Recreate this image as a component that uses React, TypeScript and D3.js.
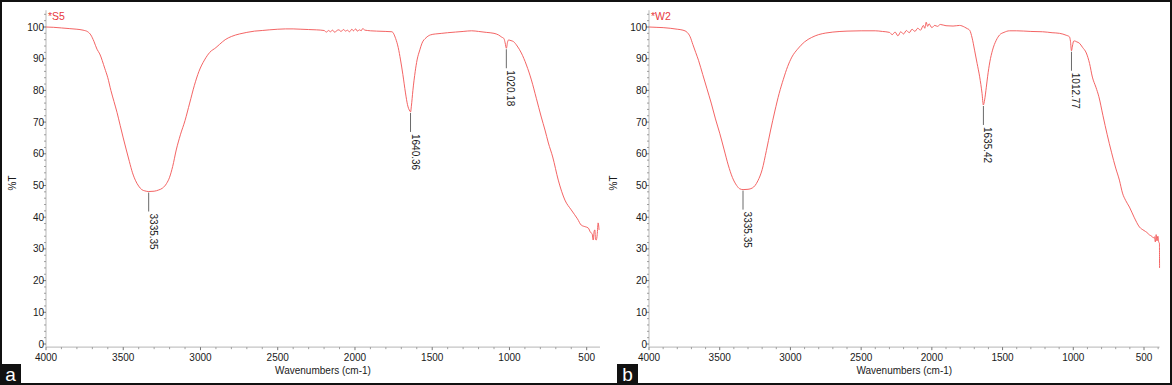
import React from 'react';
import * as d3 from 'd3';

// ---------- data ----------
const waveS5 = [4000,3950,3900,3850,3800,3760,3730,3710,3690,3670,3652,3620,3600,3580,3560,3540,3520,3500,3480,3460,3440,3420,3400,3380,3360,3335,3300,3270,3245,3220,3200,3180,3157,3130,3100,3070,3040,3010,2974,2940,2900,2877,2840,2800,2748,2700,2650,2600,2555,2500,2450,2400,2350,2300,2250,2200,2185,2170,2160,2145,2130,2120,2105,2090,2075,2060,2050,2035,2020,2010,1995,1985,1970,1960,1950,1935,1920,1900,1860,1800,1761,1737,1720,1705,1690,1673,1660,1645,1640,1635,1625,1610,1598,1580,1566,1540,1512,1480,1438,1400,1350,1300,1245,1200,1150,1100,1071,1050,1039,1035,1028,1020,1012,1006,990,974,950,923,890,858,826,794,770,748,720,684,641,600,560,535,510,490,475,465,458,452,447,443,438,432,426,420];
const transS5 = [100.0,99.9,99.7,99.5,99.3,99.0,98.5,97.5,95.5,93,91.5,87,84,80,76.5,73,69,65,61.2,57.5,54,51.5,49.8,48.7,48.3,48.1,48.2,48.6,49.2,50.6,52.6,56,61.2,66,70.5,76,81.5,86,89.6,92,93.5,94.5,96,97,97.8,98.3,98.7,98.9,99.1,99.3,99.4,99.4,99.3,99.2,99.1,98.9,98.4,98.9,98.5,99.0,98.3,98.8,99.1,98.6,99.2,98.7,99.0,98.5,99.3,98.8,99.4,98.7,99.1,98.8,99.5,99.0,98.9,98.8,98.7,98.6,98.5,96.4,93.5,89.6,85,79.2,75.5,73.5,73.2,75,80,86,89.6,92.8,94.9,96.6,97.5,97.8,98.0,98.2,98.4,98.6,98.8,98.6,98.3,98.0,97.5,96.8,96.5,96.3,95.0,93.3,95.3,95.9,95.7,95.4,94,91.8,88,83.3,77.5,71.6,67.5,63.4,59,51.7,45.4,42.3,39.5,37.5,37.0,36.6,35.2,34.8,32.8,35.5,36,33,32.8,34.5,38.2,36];

const waveW2 = [4000,3950,3900,3850,3800,3760,3730,3710,3690,3670,3650,3620,3590,3560,3530,3500,3470,3440,3410,3380,3360,3335,3300,3270,3250,3230,3200,3170,3140,3110,3080,3050,3020,2990,2950,2900,2850,2800,2750,2700,2600,2500,2400,2350,2300,2280,2260,2240,2220,2200,2180,2160,2140,2120,2100,2080,2060,2050,2040,2030,2020,2000,1980,1960,1940,1900,1850,1804,1770,1750,1733,1715,1698,1680,1662,1645,1636,1627,1615,1606,1590,1571,1545,1521,1490,1451,1400,1300,1217,1150,1097,1050,1027,1020,1013,1006,998,992,975,957,935,908,885,865,840,819,790,760,730,700,674,652,630,603,570,532,500,480,461,445,435,426,420,414,408,402,395,391,390];
const transW2 = [100.0,99.9,99.8,99.6,99.3,99.0,98.3,97,94.5,92,89.5,85,80.5,76,71,66.5,61.5,56.5,52.5,50,49,48.7,48.8,49.2,50,51.5,55,61,67.5,73.5,79,83.5,87.5,90.5,93,95.3,96.7,97.6,98.1,98.4,98.7,98.8,98.8,98.6,98.3,97.6,98.4,97.2,98.5,97.8,98.9,98.2,99.3,98.6,99.6,99.0,100.5,99.6,101.5,100.2,101.0,99.8,100.5,100.2,100.8,100.4,100.3,100.5,100.0,99.5,99.0,96.5,92.7,88.5,84.3,79,75.4,77,81,84.3,89,92.7,95.8,97.5,98.3,98.8,98.8,98.6,98.5,98.2,98.0,97.4,96.9,95.5,92.5,94.0,95.5,95.6,95.3,94.9,93.6,91.8,88.5,84.2,81,78,72,66,60.5,55.5,51.7,47.6,45.3,43.2,40,36.9,35.8,35.2,34.4,34.0,33.5,33.8,32.2,34.5,32.5,34.0,32.0,31.9,24];

const peaksS5 = [3335.35, 1640.36, 1020.18];
const peakTS5 = [48.1, 73.2, 93.3];
const peakLabelsS5 = ['3335.35', '1640.36', '1020.18'];
const peaksW2 = [3335.35, 1635.42, 1012.77];
const peakTW2 = [48.7, 75.4, 92.5];
const peakLabelsW2 = ['3335.35', '1635.42', '1012.77'];

const xMajorTicks = [4000, 3500, 3000, 2500, 2000, 1500, 1000, 500];
const yMajorTicks = [0, 10, 20, 30, 40, 50, 60, 70, 80, 90, 100];

const FONT = '"Liberation Sans", Arial, sans-serif';
const CURVE = '#f25252';

type PanelProps = {
  left: number; right500: number; xEndWave: number;
  wave: number[]; trans: number[];
  peaks: number[]; peakT: number[]; peakLabels: string[];
  title: string; letter: string; letterX: number; yLabelX: number;
};

function Panel(p: PanelProps) {
  const x = d3.scaleLinear().domain([4000, 500]).range([p.left, p.right500]);
  const y = d3.scaleLinear().domain([0, 100]).range([344, 27]);
  const xEnd = x(p.xEndWave);
  const axisY = y(-1);
  const line = d3.line<number>()
    .x((_, i) => x(p.wave[i]))
    .y((_, i) => y(p.trans[i]))
    .curve(d3.curveMonotoneX);
  const minorX = d3.range(4000, p.xEndWave, -100).filter(v => v % 500 !== 0);
  const minorY = d3.range(0, 105, 2).filter(v => v % 10 !== 0);
  return (
    <g>
      {/* y axis */}
      <line x1={p.left} x2={p.left} y1={y(105.3)} y2={axisY} stroke="#c4c4c4" strokeWidth={1.2} />
      {minorY.map(v => (
        <line key={'my' + v} x1={p.left - 2} x2={p.left} y1={y(v)} y2={y(v)} stroke="#888" strokeWidth={0.8} />
      ))}
      {yMajorTicks.map(v => (
        <g key={'y' + v}>
          <line x1={p.left - 3} x2={p.left} y1={y(v)} y2={y(v)} stroke="#666" strokeWidth={0.9} />
          <text x={p.left - 2} y={y(v) + 3.5} textAnchor="end" fontSize={10} fontFamily={FONT} fill="#1a1a1a">{v}</text>
        </g>
      ))}
      {/* x axis */}
      <line x1={p.left} x2={xEnd} y1={axisY} y2={axisY} stroke="#c4c4c4" strokeWidth={1.2} />
      {minorX.map(v => (
        <line key={'mx' + v} x1={x(v)} x2={x(v)} y1={axisY} y2={axisY + 2} stroke="#888" strokeWidth={0.8} />
      ))}
      {xMajorTicks.map(v => (
        <g key={'x' + v}>
          <line x1={x(v)} x2={x(v)} y1={axisY} y2={axisY + 3} stroke="#666" strokeWidth={0.9} />
          <text x={x(v)} y={axisY + 14} textAnchor="middle" fontSize={10} fontFamily={FONT} fill="#1a1a1a">{v}</text>
        </g>
      ))}
      <text x={(p.left + xEnd) / 2} y={374} textAnchor="middle" fontSize={10} fontFamily={FONT} fill="#1a1a1a">Wavenumbers (cm-1)</text>
      <text transform={`translate(${p.yLabelX},${183}) rotate(-90)`} textAnchor="middle" fontSize={10} fontFamily={FONT} fill="#1a1a1a">%T</text>
      <text x={p.left + 2} y={20} fontSize={10.5} fontFamily={FONT} fill="#e8383d">{p.title}</text>
      {/* spectrum */}
      <path d={line(p.wave) || ''} fill="none" stroke={CURVE} strokeWidth={0.9} />
      {/* peak labels */}
      {p.peaks.map((pk, i) => {
        const px = x(pk);
        const py = y(p.peakT[i]) + 1;
        return (
          <g key={'pk' + i}>
            <line x1={px} x2={px} y1={py} y2={py + 19} stroke="#6a6a6a" strokeWidth={1} />
            <text transform={`translate(${px + 1},${py + 21}) rotate(90)`} fontSize={10} fontFamily={FONT} fill="#1a1a1a">{p.peakLabels[i]}</text>
          </g>
        );
      })}
      {/* panel letter */}
      <rect x={p.letterX} y={364} width={21} height={21} fill="#111" />
      <text x={p.letterX + 10.5} y={381} textAnchor="middle" fontSize={19} fontFamily={FONT} fill="#fff">{p.letter}</text>
    </g>
  );
}

export default function App() {
  return (
    <div style={{ position: 'absolute', left: 0, top: 0 }}>
      <svg width={1172} height={385} style={{ display: 'block', background: '#fff' }}>
        <rect x={0} y={0} width={1172} height={385} fill="#fff" />
        <Panel left={46} right500={586.7} xEndWave={414} wave={waveS5} trans={transS5}
          peaks={peaksS5} peakT={peakTS5} peakLabels={peakLabelsS5}
          title="*S5" letter="a" letterX={0} yLabelX={16} />
        <Panel left={649} right500={1144} xEndWave={390} wave={waveW2} trans={transW2}
          peaks={peaksW2} peakT={peakTW2} peakLabels={peakLabelsW2}
          title="*W2" letter="b" letterX={617} yLabelX={617} />
        <rect x={1} y={1} width={1170} height={383} fill="none" stroke="#111" strokeWidth={2} />
      </svg>
    </div>
  );
}
